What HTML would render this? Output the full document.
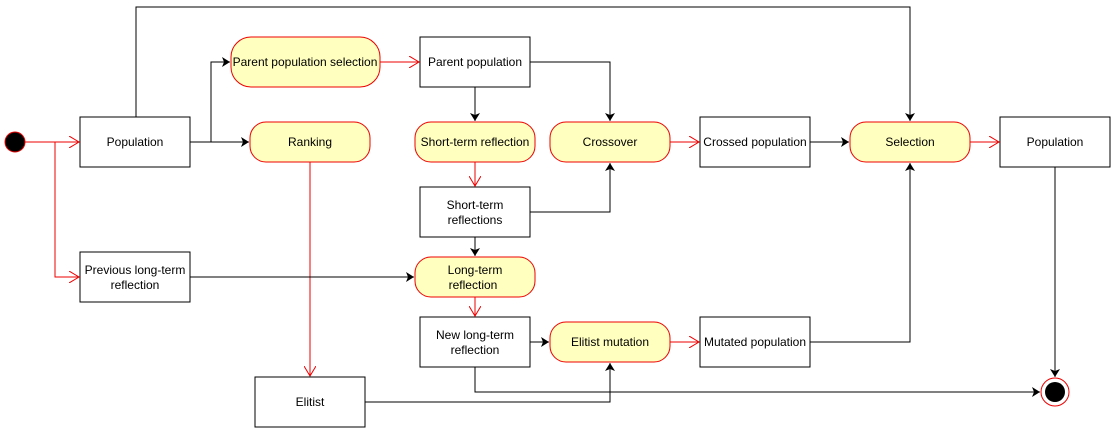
<!DOCTYPE html>
<html><head><meta charset="utf-8"><style>
html,body{margin:0;padding:0;background:#fff;}
svg{display:block;}
text{font-family:"Liberation Sans",sans-serif;font-size:12px;fill:#000;}
</style></head><body>
<svg width="1112" height="429" viewBox="0 0 1112 429" xmlns="http://www.w3.org/2000/svg">
<defs>
<marker id="bk" markerWidth="10" markerHeight="10" refX="8" refY="5" orient="auto" markerUnits="userSpaceOnUse">
<path d="M0,0 L8,5 L0,10 L2,5 Z" fill="#000"/></marker>
<marker id="rd" markerWidth="12" markerHeight="12" refX="10" refY="6" orient="auto" markerUnits="userSpaceOnUse">
<path d="M0,0 L10,6 L0,12" fill="none" stroke="#e00" stroke-width="1"/></marker>
</defs>
<g fill="none" stroke-width="1">
<!-- red connectors -->
<g stroke="#e00">
<path d="M25,142 H79" marker-end="url(#rd)"/>
<path d="M55,142 V277 H79" marker-end="url(#rd)"/>
<path d="M380,62 H419" marker-end="url(#rd)"/>
<path d="M310,162 V376" marker-end="url(#rd)"/>
<path d="M475,162 V186" marker-end="url(#rd)"/>
<path d="M475,297 V316" marker-end="url(#rd)"/>
<path d="M670,142 H699" marker-end="url(#rd)"/>
<path d="M970,142 H999" marker-end="url(#rd)"/>
<path d="M670,342 H699" marker-end="url(#rd)"/>
</g>
<!-- black connectors -->
<g stroke="#000">
<path d="M136,117 V7 H910 V121" marker-end="url(#bk)"/>
<path d="M190,142 H249" marker-end="url(#bk)"/>
<path d="M211,142 V62 H230" marker-end="url(#bk)"/>
<path d="M475,87 V121" marker-end="url(#bk)"/>
<path d="M530,62 H610 V121" marker-end="url(#bk)"/>
<path d="M530,212 H610 V163" marker-end="url(#bk)"/>
<path d="M475,237 V256" marker-end="url(#bk)"/>
<path d="M190,277 H414" marker-end="url(#bk)"/>
<path d="M810,142 H849" marker-end="url(#bk)"/>
<path d="M810,342 H910 V163" marker-end="url(#bk)"/>
<path d="M530,342 H549" marker-end="url(#bk)"/>
<path d="M365,402 H610 V363" marker-end="url(#bk)"/>
<path d="M475,367 V392 H1040" marker-end="url(#bk)"/>
<path d="M1055,167 V377" marker-end="url(#bk)"/>
</g>
<!-- yellow nodes -->
<g fill="#ffffc0" stroke="#e00">
<rect x="231" y="37" width="149" height="50" rx="20"/>
<rect x="250" y="122" width="120" height="40" rx="16"/>
<rect x="415" y="122" width="120" height="40" rx="16"/>
<rect x="550" y="122" width="120" height="40" rx="16"/>
<rect x="850" y="122" width="120" height="40" rx="16"/>
<rect x="415" y="257" width="120" height="40" rx="16"/>
<rect x="550" y="322" width="120" height="40" rx="16"/>
</g>
<!-- white boxes -->
<g fill="#fff" stroke="#000">
<rect x="80" y="117" width="110" height="50"/>
<rect x="420" y="37" width="110" height="50"/>
<rect x="420" y="187" width="110" height="50"/>
<rect x="80" y="252" width="110" height="50"/>
<rect x="420" y="317" width="110" height="50"/>
<rect x="255" y="377" width="110" height="50"/>
<rect x="700" y="117" width="110" height="50"/>
<rect x="1000" y="117" width="110" height="50"/>
<rect x="700" y="317" width="110" height="50"/>
</g>
<circle cx="15" cy="142" r="10" fill="#000" stroke="#e00"/>
<circle cx="1055" cy="392" r="14" fill="#fff" stroke="#e00"/>
<circle cx="1055" cy="392" r="10" fill="#000"/>
</g>
<g text-anchor="middle">
<text x="135" y="146">Population</text>
<text x="305" y="66">Parent population selection</text>
<text x="475" y="66">Parent population</text>
<text x="310" y="146">Ranking</text>
<text x="475" y="146">Short-term reflection</text>
<text x="610" y="146">Crossover</text>
<text x="755" y="146">Crossed population</text>
<text x="910" y="146">Selection</text>
<text x="1055" y="146">Population</text>
<text x="475" y="209">Short-term</text>
<text x="475" y="224">reflections</text>
<text x="135" y="274">Previous long-term</text>
<text x="135" y="289">reflection</text>
<text x="475" y="274">Long-term</text>
<text x="473" y="289">reflection</text>
<text x="475" y="339">New long-term</text>
<text x="475" y="354">reflection</text>
<text x="610" y="346">Elitist mutation</text>
<text x="755" y="346">Mutated population</text>
<text x="310" y="406">Elitist</text>
</g>
</svg>
</body></html>
